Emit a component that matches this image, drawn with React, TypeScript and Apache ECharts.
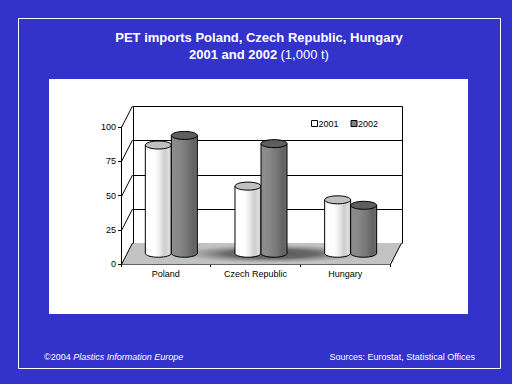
import React, { useEffect, useRef } from 'react';
import * as echarts from 'echarts';

const categories = ['Poland', 'Czech Republic', 'Hungary'];
const seriesNames = ['2001', '2002'];
const values2001 = [79, 49, 39];
const values2002 = [86, 80, 35];
const yTicks = [0, 25, 50, 75, 100];
const titleLine1 = 'PET imports Poland, Czech Republic, Hungary';
const titleLine2Bold = '2001 and 2002';
const titleLine2Unit = '(1,000 t)';
const footerLeftPrefix = '©2004 ';
const footerLeftItalic = 'Plastics Information Europe';
const footerRight = 'Sources: Eurostat, Statistical Offices';

const DX = 11;
const DY = -21.5;
const FONT = 'Arial, "Liberation Sans", Helvetica, sans-serif';
const BLUE = '#3333CC';

const px = (v: number) => Math.round(v) + 0.5;

function lineEl(x1: number, y1: number, x2: number, y2: number) {
  return {
    type: 'line',
    shape: { x1, y1, x2, y2 },
    style: { stroke: '#000', lineWidth: 1 },
  };
}

function renderFrame(params: any, api: any) {
  const cs = params.coordSys;
  const x0 = px(cs.x);
  const x1 = px(cs.x + cs.width);
  const yb = px(api.coord([0, 0])[1]);
  const yt = px(api.coord([0, yTicks[yTicks.length - 1]])[1]);
  const bx0 = Math.round(x0 + DX) + 0.5;
  const bx1 = Math.round(x1 + DX) + 0.5;
  const children: any[] = [];
  children.push({
    type: 'polygon',
    shape: {
      points: [
        [x0, yb],
        [x1, yb],
        [x1 + DX, yb + DY],
        [x0 + DX, yb + DY],
      ],
    },
    style: { fill: '#c2c2c2', stroke: null },
  });
  // soft shadow on the floor
  const R = 100;
  const scx = (x0 + x1) / 2 + DX / 2 + 10;
  const scy = yb + DY / 2;
  children.push({
    type: 'circle',
    x: scx,
    y: scy,
    scaleY: 10 / R,
    shape: { cx: 0, cy: 0, r: R },
    style: {
      fill: new echarts.graphic.RadialGradient(0.5, 0.5, 0.5, [
        { offset: 0, color: 'rgba(85,85,85,1)' },
        { offset: 0.45, color: 'rgba(95,95,95,0.9)' },
        { offset: 0.75, color: 'rgba(140,140,140,0.5)' },
        { offset: 1, color: 'rgba(194,194,194,0)' },
      ]),
      stroke: null,
    },
  });
  yTicks.forEach((v) => {
    const y = px(api.coord([0, v])[1]);
    const by = Math.round(y + DY) + 0.5;
    if (v > 0) children.push(lineEl(bx0, by, bx1, by));
    children.push(lineEl(x0, y, x0 + DX, y + DY));
  });
  children.push(lineEl(bx0, Math.round(yt + DY) + 0.5, bx0, Math.round(yb + DY) + 0.5));
  children.push(lineEl(bx1, Math.round(yt + DY) + 0.5, bx1, Math.round(yb + DY) + 0.5));
  children.push(lineEl(x1, yb, x1 + DX, yb + DY));
  return { type: 'group', children };
}

const bodyGrad = [
  [
    { offset: 0, color: '#ffffff' },
    { offset: 0.38, color: '#fdfdfd' },
    { offset: 0.55, color: '#ececec' },
    { offset: 0.75, color: '#cdcdcd' },
    { offset: 0.9, color: '#dedede' },
    { offset: 1, color: '#c4c4c4' },
  ],
  [
    { offset: 0, color: '#8e8e8e' },
    { offset: 0.3, color: '#888888' },
    { offset: 0.6, color: '#777777' },
    { offset: 0.85, color: '#626262' },
    { offset: 1, color: '#6c6c6c' },
  ],
];
const topColor = ['#c0c0c0', '#5e5e5e'];

function makeCylinder(s: number) {
  return (params: any, api: any) => {
    const cat = api.value(0);
    const val = api.value(1);
    const band = api.size([1, 0])[0];
    const w = band * 0.29;
    const top = api.coord([cat, val]);
    const base = api.coord([cat, 0]);
    const cx = top[0] + DX / 2 + (s === 0 ? -w / 2 : w / 2);
    const yt = top[1] + DY / 2;
    const yb = base[1] + DY / 2;
    const rx = w / 2;
    const ry = 4;
    const grad = new echarts.graphic.LinearGradient(0, 0, 1, 0, bodyGrad[s]);
    return {
      type: 'group',
      children: [
        {
          type: 'ellipse',
          shape: { cx, cy: yb, rx, ry },
          style: { fill: grad, stroke: '#000', lineWidth: 1 },
        },
        {
          type: 'rect',
          shape: { x: cx - rx, y: yt, width: w, height: yb - yt },
          style: { fill: grad, stroke: null },
        },
        lineEl(cx - rx, yt, cx - rx, yb),
        lineEl(cx + rx, yt, cx + rx, yb),
        {
          type: 'ellipse',
          shape: { cx, cy: yt, rx, ry },
          style: { fill: topColor[s], stroke: '#000', lineWidth: 1 },
        },
      ],
    };
  };
}

export default function App() {
  const ref = useRef<HTMLDivElement>(null);
  useEffect(() => {
    if (!ref.current) return;
    const chart = echarts.init(ref.current, null, { renderer: 'svg' });
    const option: any = {
      animation: false,
      backgroundColor: BLUE,
      textStyle: { fontFamily: FONT },
      graphic: [
        {
          type: 'rect',
          z: -10,
          shape: { x: 18.5, y: 18.5, width: 482, height: 350 },
          style: { fill: null, stroke: '#ffffff', lineWidth: 1 },
        },
        {
          type: 'rect',
          z: -10,
          shape: { x: 49, y: 79, width: 419, height: 235 },
          style: { fill: '#ffffff', stroke: null },
        },
        {
          type: 'text',
          x: 259,
          y: 37,
          style: {
            text: titleLine1,
            fill: '#ffffff',
            font: `bold 13px ${FONT}`,
            textAlign: 'center',
            textVerticalAlign: 'middle',
          },
        },
        {
          type: 'text',
          x: 259,
          y: 54,
          style: {
            text: `{b|${titleLine2Bold}} {n|${titleLine2Unit}}`,
            fill: '#ffffff',
            textAlign: 'center',
            textVerticalAlign: 'middle',
            rich: {
              b: { font: `bold 13px ${FONT}`, fill: '#ffffff' },
              n: { font: `13px ${FONT}`, fill: '#ffffff' },
            },
          },
        },
        {
          type: 'text',
          x: 44,
          y: 357,
          style: {
            text: `{a|${footerLeftPrefix}}{i|${footerLeftItalic}}`,
            fill: '#ffffff',
            textAlign: 'left',
            textVerticalAlign: 'middle',
            rich: {
              a: { font: `9px ${FONT}`, fill: '#ffffff' },
              i: { font: `italic 9px ${FONT}`, fill: '#ffffff' },
            },
          },
        },
        {
          type: 'text',
          x: 475,
          y: 357,
          style: {
            text: footerRight,
            fill: '#ffffff',
            font: `9px ${FONT}`,
            textAlign: 'right',
            textVerticalAlign: 'middle',
          },
        },
      ],
      legend: {
        left: 311,
        top: 119,
        itemWidth: 6,
        itemHeight: 6,
        itemGap: 12,
        padding: 0,
        icon: 'rect',
        textStyle: { fontSize: 9, color: '#000', fontFamily: FONT, padding: [0, 0, 0, -4] },
        data: [
          { name: seriesNames[0], itemStyle: { color: '#ffffff', borderColor: '#000', borderWidth: 1 } },
          { name: seriesNames[1], itemStyle: { color: '#808080', borderColor: '#000', borderWidth: 1 } },
        ],
      },
      grid: { left: 121, top: 127, width: 269, height: 137 },
      xAxis: {
        type: 'category',
        data: categories,
        boundaryGap: true,
        axisLine: { show: true, lineStyle: { color: '#000', width: 1 } },
        axisTick: { show: true, length: 3, interval: 0, alignWithLabel: false, lineStyle: { color: '#000' } },
        axisLabel: { fontSize: 9, color: '#000', margin: 5, interval: 0, fontFamily: FONT },
        splitLine: { show: false },
      },
      yAxis: {
        type: 'value',
        min: 0,
        max: 100,
        interval: 25,
        axisLine: { show: true, lineStyle: { color: '#000', width: 1 } },
        axisTick: { show: true, length: 3, lineStyle: { color: '#000' } },
        axisLabel: { fontSize: 9, color: '#000', margin: 5, fontFamily: FONT },
        splitLine: { show: false },
      },
      series: [
        {
          type: 'custom',
          name: 'frame',
          z: 1,
          silent: true,
          renderItem: renderFrame,
          data: [[0, 0]],
          encode: { x: 0, y: 1 },
        },
        {
          type: 'custom',
          name: seriesNames[0],
          z: 3,
          itemStyle: { color: '#ffffff' },
          renderItem: makeCylinder(0),
          data: categories.map((_, i) => [i, values2001[i]]),
          encode: { x: 0, y: 1 },
        },
        {
          type: 'custom',
          name: seriesNames[1],
          z: 4,
          itemStyle: { color: '#808080' },
          renderItem: makeCylinder(1),
          data: categories.map((_, i) => [i, values2002[i]]),
          encode: { x: 0, y: 1 },
        },
      ],
    };
    chart.setOption(option);
    return () => chart.dispose();
  }, []);
  return (
    <div
      ref={ref}
      style={{ position: 'fixed', left: 0, top: 0, width: 512, height: 384 }}
    />
  );
}
